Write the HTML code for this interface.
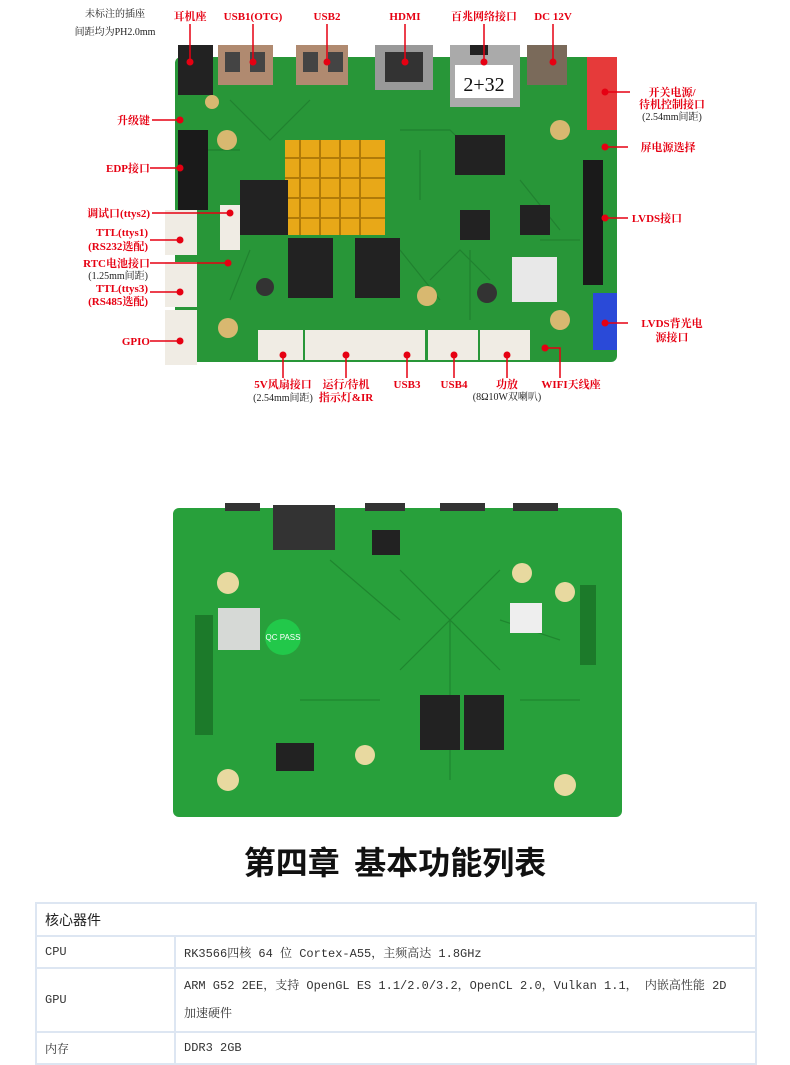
<!DOCTYPE html>
<html><head><meta charset="utf-8"><style>
body{margin:0;background:#fff;width:790px;height:1051px;overflow:hidden;font-family:"Liberation Sans","Noto Sans CJK SC",sans-serif}
svg{position:absolute;left:0;top:0}
.r{fill:#e60012;font-family:"Liberation Serif","Noto Serif CJK SC",serif;font-size:11px;font-weight:bold}
.k{fill:#222;font-family:"Liberation Serif","Noto Serif CJK SC",serif;font-size:10px}
h1{position:absolute;top:838px;left:0;width:790px;text-align:center;margin:0;font-size:32px;font-weight:bold;font-family:"Noto Sans CJK SC",sans-serif;color:#111}
table{position:absolute;left:35px;top:902px;width:722px;border-collapse:collapse;font-family:"Liberation Mono","Noto Serif CJK SC",monospace;font-size:12px;color:#333}
td{border:2px solid #dde6f2;padding:0 8px;height:30px}
</style></head><body>
<svg width="790" height="830" viewBox="0 0 790 830">
<!-- top board -->
<rect x="175" y="57" width="442" height="305" rx="6" fill="#289638"/>
<g stroke="#1f7d2e" stroke-width="1.2" fill="none" opacity=".8">
<path d="M230 100L270 140L310 100M400 130H450L480 160M520 180L560 230M400 250L440 300M470 250V320M250 250L230 300M540 240H580"/>
<path d="M200 150H240M420 150V200M430 280L460 250L490 280"/>
</g>
<!-- connectors top -->
<rect x="178" y="45" width="35" height="50" fill="#222"/>
<rect x="218" y="45" width="55" height="40" fill="#b08a70"/><rect x="225" y="52" width="15" height="20" fill="#444"/><rect x="250" y="52" width="15" height="20" fill="#444"/>
<rect x="296" y="45" width="52" height="40" fill="#b08a70"/><rect x="303" y="52" width="15" height="20" fill="#444"/><rect x="328" y="52" width="15" height="20" fill="#444"/>
<rect x="375" y="45" width="58" height="45" fill="#999"/><rect x="385" y="52" width="38" height="30" fill="#333"/>
<rect x="450" y="45" width="70" height="62" fill="#aaa"/><rect x="455" y="65" width="58" height="33" fill="#fff"/>
<text x="484" y="91" text-anchor="middle" font-family="Liberation Serif,serif" font-size="20" fill="#111">2+32</text>
<rect x="470" y="45" width="18" height="10" fill="#222"/>
<rect x="527" y="45" width="40" height="40" fill="#7a6a5a"/>
<rect x="587" y="57" width="30" height="73" fill="#e63a3a"/>
<rect x="593" y="293" width="24" height="57" fill="#2a4ad8"/>
<rect x="583" y="160" width="20" height="125" fill="#1a1a1a"/>
<rect x="178" y="130" width="30" height="80" fill="#1a1a1a"/>
<rect x="285" y="140" width="100" height="95" fill="#e8a818"/>
<g stroke="#b07a08" stroke-width="2"><line x1="300" y1="140" x2="300" y2="235"/><line x1="320" y1="140" x2="320" y2="235"/><line x1="340" y1="140" x2="340" y2="235"/><line x1="360" y1="140" x2="360" y2="235"/><line x1="285" y1="158" x2="385" y2="158"/><line x1="285" y1="178" x2="385" y2="178"/><line x1="285" y1="198" x2="385" y2="198"/><line x1="285" y1="218" x2="385" y2="218"/></g>
<rect x="240" y="180" width="48" height="55" fill="#222"/>
<rect x="288" y="238" width="45" height="60" fill="#222"/><rect x="355" y="238" width="45" height="60" fill="#222"/>
<rect x="455" y="135" width="50" height="40" fill="#222"/><rect x="520" y="205" width="30" height="30" fill="#222"/>
<rect x="460" y="210" width="30" height="30" fill="#222"/>
<rect x="512" y="257" width="45" height="45" fill="#e8e8e8"/>
<circle cx="487" cy="293" r="10" fill="#333"/><circle cx="265" cy="287" r="9" fill="#333"/>
<g fill="#f0ece4"><rect x="165" y="210" width="32" height="45"/><rect x="165" y="262" width="32" height="45"/><rect x="165" y="310" width="32" height="55"/><rect x="220" y="205" width="20" height="45"/><rect x="258" y="330" width="45" height="30"/><rect x="305" y="330" width="70" height="30"/><rect x="375" y="330" width="50" height="30"/><rect x="428" y="330" width="50" height="30"/><rect x="480" y="330" width="50" height="30"/></g>
<g fill="#d8b870"><circle cx="212" cy="102" r="7"/><circle cx="227" cy="140" r="10"/><circle cx="427" cy="296" r="10"/><circle cx="560" cy="130" r="10"/><circle cx="560" cy="320" r="10"/><circle cx="228" cy="328" r="10"/></g>
<!-- labels -->
<text class="k" x="115" y="17" text-anchor="middle">未标注的插座</text>
<text class="k" x="115" y="35" text-anchor="middle">间距均为PH2.0mm</text>
<g stroke="#e60012" stroke-width="1.5" fill="none">
<path d="M190 24V60M253 24V62M327 24V62M405 24V62M484 24V62M553 24V62"/>
<path d="M152 120H180M150 168H180M152 213H230M150 240H180M150 263H228M150 292H180M150 341H180"/>
<path d="M630 92H605M628 147H605M628 218H605M628 323H605"/>
<path d="M283 378V355M346 378V355M407 378V355M454 378V355M507 378V355M560 378V348H545"/>
</g>
<g fill="#e60012"><circle cx="190" cy="62" r="3.5"/><circle cx="253" cy="62" r="3.5"/><circle cx="327" cy="62" r="3.5"/><circle cx="405" cy="62" r="3.5"/><circle cx="484" cy="62" r="3.5"/><circle cx="553" cy="62" r="3.5"/>
<circle cx="180" cy="120" r="3.5"/><circle cx="180" cy="168" r="3.5"/><circle cx="230" cy="213" r="3.5"/><circle cx="180" cy="240" r="3.5"/><circle cx="228" cy="263" r="3.5"/><circle cx="180" cy="292" r="3.5"/><circle cx="180" cy="341" r="3.5"/>
<circle cx="605" cy="92" r="3.5"/><circle cx="605" cy="147" r="3.5"/><circle cx="605" cy="218" r="3.5"/><circle cx="605" cy="323" r="3.5"/>
<circle cx="283" cy="355" r="3.5"/><circle cx="346" cy="355" r="3.5"/><circle cx="407" cy="355" r="3.5"/><circle cx="454" cy="355" r="3.5"/><circle cx="507" cy="355" r="3.5"/><circle cx="545" cy="348" r="3.5"/></g>
<text class="r" x="190" y="20" text-anchor="middle">耳机座</text>
<text class="r" x="253" y="20" text-anchor="middle">USB1(OTG)</text>
<text class="r" x="327" y="20" text-anchor="middle">USB2</text>
<text class="r" x="405" y="20" text-anchor="middle">HDMI</text>
<text class="r" x="484" y="20" text-anchor="middle">百兆网络接口</text>
<text class="r" x="553" y="20" text-anchor="middle">DC 12V</text>
<g text-anchor="end"><text class="r" x="150" y="124">升级键</text><text class="r" x="150" y="172">EDP接口</text><text class="r" x="150" y="217">调试口(ttys2)</text><text class="r" x="148" y="236">TTL(ttys1)</text><text class="r" x="148" y="250">(RS232选配)</text><text class="r" x="150" y="267">RTC电池接口</text><text class="k" x="148" y="279">(1.25mm间距)</text><text class="r" x="148" y="292">TTL(ttys3)</text><text class="r" x="148" y="305">(RS485选配)</text><text class="r" x="150" y="345">GPIO</text></g>
<g text-anchor="middle"><text class="r" x="672" y="96">开关电源/</text><text class="r" x="672" y="108">待机控制接口</text><text class="k" x="672" y="120">(2.54mm间距)</text><text class="r" x="668" y="151">屏电源选择</text><text class="r" x="657" y="222">LVDS接口</text><text class="r" x="672" y="327">LVDS背光电</text><text class="r" x="672" y="341">源接口</text>
<text class="r" x="283" y="388">5V风扇接口</text><text class="k" x="283" y="401">(2.54mm间距)</text><text class="r" x="346" y="388">运行/待机</text><text class="r" x="346" y="401">指示灯&amp;IR</text><text class="r" x="407" y="388">USB3</text><text class="r" x="454" y="388">USB4</text><text class="r" x="507" y="388">功放</text><text class="k" x="507" y="400" font-size="9">(8Ω10W双喇叭)</text><text class="r" x="571" y="388">WIFI天线座</text></g>
<!-- bottom board -->
<rect x="173" y="508" width="449" height="309" rx="6" fill="#28a03b"/>
<g stroke="#1f862f" stroke-width="1.2" fill="none">
<path d="M400 570L450 620L500 570M400 670L450 620L500 670M330 560L400 620M560 640L500 620M300 700L380 700M520 700L580 700M450 620V780"/>
</g>
<rect x="273" y="505" width="62" height="45" fill="#333"/>
<rect x="225" y="503" width="35" height="8" fill="#333"/><rect x="365" y="503" width="40" height="8" fill="#333"/><rect x="440" y="503" width="45" height="8" fill="#333"/><rect x="513" y="503" width="45" height="8" fill="#333"/>
<rect x="218" y="608" width="42" height="42" fill="#d6d9d6"/>
<circle cx="283" cy="637" r="18" fill="#22c84a"/>
<text x="283" y="640" text-anchor="middle" font-size="8" fill="#fff">QC PASS</text>
<rect x="420" y="695" width="40" height="55" fill="#222"/><rect x="464" y="695" width="40" height="55" fill="#222"/>
<rect x="276" y="743" width="38" height="28" fill="#222"/><rect x="372" y="530" width="28" height="25" fill="#222"/>
<rect x="510" y="603" width="32" height="30" fill="#eee"/>
<rect x="195" y="615" width="18" height="120" fill="#1c7a2a"/><rect x="580" y="585" width="16" height="80" fill="#1c7a2a"/>
<g fill="#e8d9a0"><circle cx="228" cy="583" r="11"/><circle cx="522" cy="573" r="10"/><circle cx="565" cy="592" r="10"/><circle cx="365" cy="755" r="10"/><circle cx="228" cy="780" r="11"/><circle cx="565" cy="785" r="11"/></g>
</svg>
<h1>第四章&nbsp; 基本功能列表</h1>
<table>
<tr><td colspan="2" style="font-family:'Noto Sans CJK SC',sans-serif;font-size:14px;color:#222;height:31px">核心器件</td></tr>
<tr><td style="width:121px">CPU</td><td>RK3566四核 64 位 Cortex-A55，主频高达 1.8GHz</td></tr>
<tr><td style="height:62px">GPU</td><td style="line-height:28px">ARM G52 2EE，支持 OpenGL ES 1.1/2.0/3.2，OpenCL 2.0，Vulkan 1.1， 内嵌高性能 2D<br>加速硬件</td></tr>
<tr><td>内存</td><td>DDR3 2GB</td></tr>
</table>
</body></html>
